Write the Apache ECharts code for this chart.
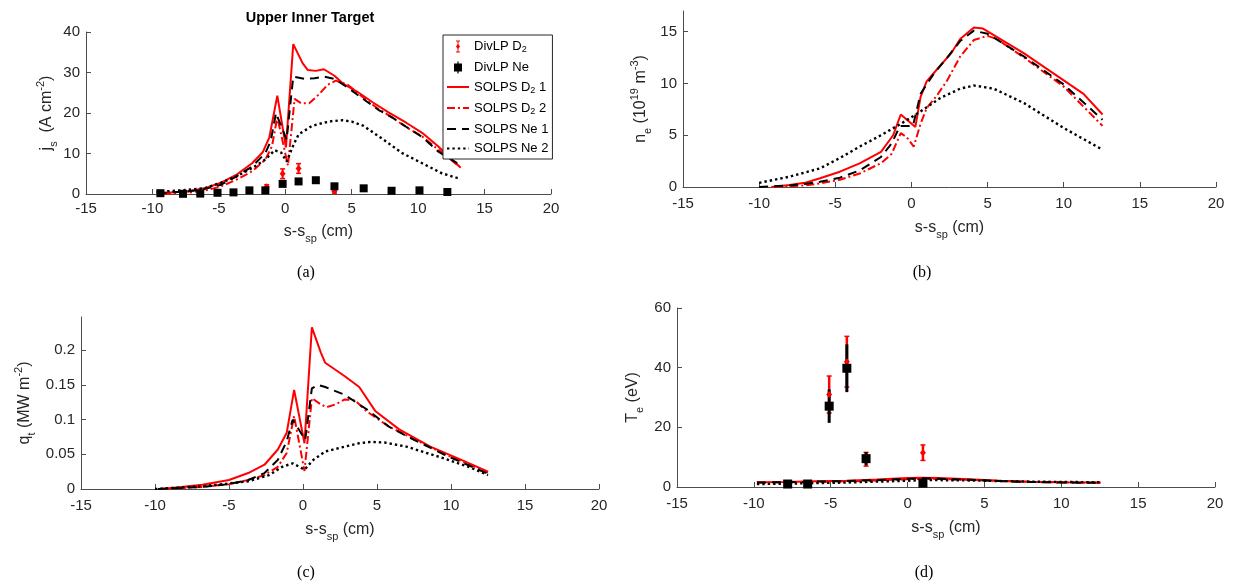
<!DOCTYPE html>
<html><head><meta charset="utf-8">
<script src="https://cdn.jsdelivr.net/npm/echarts@6/dist/echarts.min.js"></script>
<style>html,body{margin:0;padding:0;background:#fff}#c{width:1236px;height:585px}</style>
</head><body><div id="c"></div>
<script>
// ---------- Panel (a): j_s ----------
const aD21x = [-9.6,-7.4,-6.1,-4.9,-3.7,-2.5,-1.7,-1.2,-0.6,0.05,0.6,1.3,1.7,2.3,2.9,3.7,4.4,5.4,6.6,7.8,9.1,10.3,11.5,13.2];
const aD21y = [0.2,0.6,1.4,2.7,4.7,7.6,10.3,14,24.3,11.5,37,32.3,30.6,30.4,30.8,29.2,27.1,25.3,22.6,20.1,17.6,15.1,11.8,6.5];
const aD22x = [-9.2,-7.4,-6.1,-4.9,-3.7,-2.5,-1.5,-1.0,-0.6,0.2,0.7,1.2,1.8,2.5,3.2,3.8,4.7,5.8,7.0,8.0,9.1,10.3,11.5,13.1];
const aD22y = [0,0.3,0.8,1.8,3.5,5.6,8.5,11.8,19,7,23.5,22.4,22.4,24.5,27,28,27,24,21,19,16.5,14.2,11,6.8];
const aNe1x = [-9.6,-7.4,-6.1,-4.9,-3.7,-2.5,-1.5,-1.1,-0.7,0.1,0.6,1.5,2.2,2.9,3.7,4.7,5.8,7.0,8.0,9.1,10.3,11.5,13.1];
const aNe1y = [0.2,0.6,1.2,2.2,4.3,6.8,10.1,13,20,13.4,29,28.4,28.6,29,28.4,26.3,23.6,20.8,19,16.6,14.1,10.5,7.3];
const aNe2x = [-9.7,-7.4,-6.1,-4.9,-3.7,-2.5,-1.5,-0.8,-0.3,0.1,0.6,1.0,2.0,2.9,3.5,4.3,5.0,5.9,7.4,8.8,10.3,11.8,13.2];
const aNe2y = [0.5,1.0,1.4,2.7,4.3,6.4,8.5,10.8,10.2,8.0,12,14.7,16.8,17.6,18,18.2,17.9,16.8,13.4,10.1,7.6,5.1,3.7];
const aLPNex = [-9.4,-7.7,-6.4,-5.1,-3.9,-2.7,-1.5,-0.2,1.0,2.3,3.7,5.9,8.0,10.1,12.2];
const aLPNey = [0.2,0.05,0.1,0.3,0.4,0.9,0.9,2.5,3.1,3.4,1.9,1.4,0.8,0.9,0.5];
const aLPNee = [0.2,0.2,0.2,0.2,0.2,0.3,0.3,0.4,0.4,0.4,0.3,0.3,0.2,0.2,0.2];
const aLPD2x = [-1.4,-0.2,1.0,3.7];
const aLPD2y = [1.8,5.0,6.3,0.6];
const aLPD2e = [0.5,1.2,1.2,0.4];

// ---------- Panel (b): n_e ----------
const bD21x = [-9.2,-8,-7,-6,-4.7,-3.4,-2.0,-1.2,-0.7,0.26,0.6,1.0,1.7,2.6,3.2,4.1,4.7,5.6,7.4,10.0,11.3,12.55];
const bD21y = [0,0.2,0.4,0.84,1.48,2.28,3.4,5.0,7.0,5.8,8.7,10.2,11.4,12.9,14.3,15.4,15.3,14.5,12.9,10.3,9.0,7.0];
const bD22x = [-9,-7,-6,-4.7,-3.4,-2.0,-1.3,-0.7,-0.3,0.15,0.6,1.0,1.7,2.35,3.2,4.1,5.0,5.6,7.4,10.0,12.55];
const bD22y = [0,0.15,0.35,0.7,1.3,2.3,3.2,5.2,4.8,3.9,6.1,7.6,8.9,10.3,12.6,14.2,14.6,14.3,12.5,9.7,5.9];
const bNe1x = [-10,-8,-7,-6,-4.7,-3.4,-2.0,-1.3,-0.75,0.1,0.6,1.5,2.4,3.2,4.1,5.0,7.4,10.0,12.55];
const bNe1y = [0,0.15,0.3,0.5,0.9,1.6,2.9,4.2,5.9,5.9,9.0,11.0,12.6,14.1,15.1,14.8,12.6,9.9,6.5];
const bNe2x = [-10,-8,-6,-4.7,-3.4,-2.0,-0.7,0.6,1.9,3.2,4.1,5.4,7.4,10.0,12.55];
const bNe2y = [0.4,1.0,1.8,2.8,3.9,5.0,6.1,7.3,8.6,9.5,9.8,9.5,8.1,5.7,3.6];

// ---------- Panel (c): q_t ----------
const cD21x = [-9.5,-6.8,-5.0,-3.7,-2.6,-1.7,-1.1,-0.6,0.1,0.6,1.2,1.5,2.8,3.8,4.9,6.5,8.6,10.7,12.5];
const cD21y = [0,0.006,0.013,0.023,0.035,0.057,0.081,0.143,0.066,0.233,0.197,0.182,0.163,0.147,0.112,0.086,0.061,0.042,0.025];
const cD22x = [-9.5,-6.8,-5.0,-3.7,-2.6,-1.7,-1.1,-0.6,0.1,0.6,1.2,1.6,2.2,2.8,3.5,4.3,5.8,7.5,9.6,12.5];
const cD22y = [0,0.003,0.007,0.013,0.020,0.032,0.052,0.105,0.026,0.131,0.122,0.118,0.122,0.129,0.128,0.112,0.09,0.072,0.05,0.024];
const cNe1x = [-9.8,-6.8,-5.0,-3.7,-2.6,-1.7,-1.1,-0.7,0.15,0.6,1.0,1.5,2.8,4.3,5.8,7.5,9.6,12.5];
const cNe1y = [0,0.003,0.007,0.013,0.023,0.042,0.069,0.10,0.071,0.145,0.15,0.147,0.136,0.115,0.09,0.071,0.049,0.022];
const cNe2x = [-10,-6.8,-5,-3.7,-2.3,-1.4,-0.7,0.1,0.7,1.5,2.8,3.8,4.6,5.5,7.0,9.1,11.2,12.5];
const cNe2y = [0,0.004,0.008,0.011,0.020,0.032,0.037,0.028,0.042,0.054,0.061,0.066,0.068,0.067,0.061,0.047,0.032,0.020];

// ---------- Panel (d): T_e ----------
const dX = [-9.8,-8,-6,-4,-2,0,1,2,4,6,8,10,12.55];
const dD21y = [1.6,1.7,1.9,2.1,2.5,3.0,3.1,3.0,2.6,2.1,1.8,1.6,1.5];
const dD22y = [1.5,1.6,1.7,1.9,2.2,2.6,2.8,2.7,2.4,2.0,1.7,1.5,1.4];
const dNe1y = [1.5,1.6,1.8,2.0,2.3,2.7,2.9,2.8,2.4,2.0,1.7,1.5,1.4];
const dNe2y = [1.0,1.1,1.3,1.5,1.8,2.1,2.3,2.3,2.2,2.0,1.8,1.7,1.6];
const dLPNex = [-7.8,-6.5,-5.1,-3.95,-2.7,1.0];
const dLPNey = [1.0,1.0,27.1,39.8,9.5,1.3];
const dLPNee = [0.5,0.5,5.6,8,2.2,0.5];
const dLPD2x = [-5.1,-3.95,-2.7,1.0];
const dLPD2y = [31,42,9.3,11.5];
const dLPD2e = [6.2,8.5,2.3,2.6];

// ---------- axes ticks ----------
const xTicks = {min:-15, max:20, interval:5};
const yA = {min:0, max:40, interval:10};
const yB = {min:0, max:17, ticks:[0,5,10,15]};
const yC = {min:0, max:0.248, ticks:[0,0.05,0.1,0.15,0.2]};
const yD = {min:0, max:60, interval:20};

const NAMES = ['DivLP D2','DivLP Ne','SOLPS D2 1','SOLPS D2 2','SOLPS Ne 1','SOLPS Ne 2'];

// ---------- build ----------
const F = 'Liberation Sans';
const TXT = '#262626';
const zip = (a,b,c) => a.map((v,i)=> c ? [v,b[i],c[i]] : [v,b[i]]);
const LS = {
  'SOLPS D2 1': {color:'#ff0000', width:2, type:'solid'},
  'SOLPS D2 2': {color:'#ff0000', width:2, type:[8,3,2,3]},
  'SOLPS Ne 1': {color:'#000000', width:2, type:[9,6]},
  'SOLPS Ne 2': {color:'#000000', width:2.4, type:[2.4,3]}
};
function line(name, xs, ys, g){
  return {type:'line', name, xAxisIndex:g, yAxisIndex:g, data:zip(xs,ys), symbol:'none', showSymbol:false,
    color:LS[name].color, lineStyle:LS[name], animation:false, silent:true, z:3, clip:true};
}
function errbar(xs, ys, es, g, color, w, cap){
  return {type:'custom', xAxisIndex:g, yAxisIndex:g, data:zip(xs,ys,es), encode:{x:0,y:1}, z:2, silent:true, animation:false,
    renderItem:(p, api)=>{
      const x=api.value(0), y=api.value(1), e=api.value(2);
      const a=api.coord([x,y-e]), b=api.coord([x,y+e]);
      const ch=[];
      ch.push({type:'line', shape:{x1:a[0],y1:a[1],x2:b[0],y2:b[1]}, style:{stroke:color, lineWidth:w}});
      if(cap){
        ch.push({type:'line', shape:{x1:a[0]-cap,y1:a[1],x2:a[0]+cap,y2:a[1]}, style:{stroke:color, lineWidth:1.5}});
        ch.push({type:'line', shape:{x1:b[0]-cap,y1:b[1],x2:b[0]+cap,y2:b[1]}, style:{stroke:color, lineWidth:1.5}});
      }
      return {type:'group', children:ch};
    }};
}
function pts(name, xs, ys, g, sym, size, color){
  return {type:'scatter', name, xAxisIndex:g, yAxisIndex:g, data:zip(xs,ys), symbol:sym, symbolSize:size,
    itemStyle:{color, opacity:1}, color, z:4, silent:true, animation:false};
}

const rich = {
  n:{fontSize:16, fontFamily:F, color:TXT, lineHeight:24},
  sub:{fontSize:11, fontFamily:F, color:TXT, lineHeight:11, verticalAlign:'bottom'},
  sup:{fontSize:11, fontFamily:F, color:TXT, lineHeight:11, verticalAlign:'top'}
};
const grids = [
  {left:86, top:32, width:465, height:162},
  {left:683, top:11, width:533, height:176},
  {left:81, top:317, width:518, height:172},
  {left:677, top:308, width:538, height:179}
];
const xName = '{n|s-s}{sub|sp}{n| (cm)}';
const yNames = [
  '{n|j}{sub|s}{n|  (A cm}{sup|-2}{n|)}',
  '{n|n}{sub|e}{n| (10}{sup|19}{n| m}{sup|-3}{n|)}',
  '{n|q}{sub|t}{n| (MW m}{sup|-2}{n|)}',
  '{n|T}{sub|e}{n| (eV)}'
];
const yGaps = [27, 30, 44, 32];
const xGaps = [26, 29, 29, 29];
const ySpecs = [yA,yB,yC,yD];

const axisCommon = {
  axisLine:{show:true, onZero:false, lineStyle:{color:'#4d4d4d', width:1}},
  axisTick:{show:true, inside:true, length:5, lineStyle:{color:'#4d4d4d'}},
  splitLine:{show:false},
  axisLabel:{color:TXT, fontSize:15, fontFamily:F, margin:7}
};
const xAxis = grids.map((g,i)=>({
  type:'value', gridIndex:i, min:xTicks.min, max:xTicks.max, interval:xTicks.interval,
  ...JSON.parse(JSON.stringify(axisCommon)),
  name:xName, nameLocation:'middle', nameGap:xGaps[i], nameTextStyle:{rich}
}));
xAxis.forEach((ax,i)=>{ if(i>0) ax.axisLabel.margin = 9; });
const yAxis = ySpecs.map((s,i)=>{
  const ax = {type:'value', gridIndex:i, min:s.min, max:s.max,
    ...JSON.parse(JSON.stringify(axisCommon)),
    name:yNames[i], nameLocation:'middle', nameGap:yGaps[i], nameRotate:90, nameTextStyle:{rich}};
  ax.axisLabel.margin = 6;
  if (s.ticks){
    ax.axisLabel.customValues = s.ticks;
    ax.axisTick.customValues = s.ticks;
  } else {
    ax.interval = s.interval;
  }
  return ax;
});

const series = [
  // (a)
  errbar(aLPD2x, aLPD2y, aLPD2e, 0, '#ff0000', 2, 2.5),
  pts('DivLP D2', aLPD2x, aLPD2y, 0, 'diamond', [6,7], '#ff0000'),
  line('SOLPS D2 1', aD21x, aD21y, 0),
  line('SOLPS D2 2', aD22x, aD22y, 0),
  line('SOLPS Ne 1', aNe1x, aNe1y, 0),
  line('SOLPS Ne 2', aNe2x, aNe2y, 0),
  errbar(aLPNex, aLPNey, aLPNee, 0, '#000', 2, 0),
  pts('DivLP Ne', aLPNex, aLPNey, 0, 'rect', 8, '#000'),
  // (b)
  line('SOLPS D2 1', bD21x, bD21y, 1),
  line('SOLPS D2 2', bD22x, bD22y, 1),
  line('SOLPS Ne 1', bNe1x, bNe1y, 1),
  line('SOLPS Ne 2', bNe2x, bNe2y, 1),
  // (c)
  line('SOLPS D2 1', cD21x, cD21y, 2),
  line('SOLPS D2 2', cD22x, cD22y, 2),
  line('SOLPS Ne 1', cNe1x, cNe1y, 2),
  line('SOLPS Ne 2', cNe2x, cNe2y, 2),
  // (d)
  errbar(dLPD2x, dLPD2y, dLPD2e, 3, '#ff0000', 2.5, 2.5),
  pts('DivLP D2', dLPD2x, dLPD2y, 3, 'diamond', [6,7], '#ff0000'),
  errbar(dLPNex, dLPNey, dLPNee, 3, '#000', 3, 0),
  pts('DivLP Ne', dLPNex, dLPNey, 3, 'rect', 9, '#000'),
  line('SOLPS D2 1', dX, dD21y, 3),
  line('SOLPS D2 2', dX, dD22y, 3),
  line('SOLPS Ne 1', dX, dNe1y, 3),
  line('SOLPS Ne 2', dX, dNe2y, 3)
];

const legendRich = {
  t:{fontSize:13, fontFamily:F, color:'#000', lineHeight:16},
  s:{fontSize:9, fontFamily:F, color:'#000', lineHeight:9, verticalAlign:'bottom'}
};
const legendFmt = {
  'DivLP D2':'{t|DivLP D}{s|2}',
  'DivLP Ne':'{t|DivLP Ne}',
  'SOLPS D2 1':'{t|SOLPS D}{s|2}{t| 1}',
  'SOLPS D2 2':'{t|SOLPS D}{s|2}{t| 2}',
  'SOLPS Ne 1':'{t|SOLPS Ne 1}',
  'SOLPS Ne 2':'{t|SOLPS Ne 2}'
};
const ICON_D2 = 'path://M1,0H5V1H1Z M1,11H5V12H1Z M2.5,0H3.5V12H2.5Z M3,3L5,6L3,9L1,6Z';
const ICON_NE = 'path://M0,2H8V10H0Z M3.4,0H4.6V12H3.4Z';
const legendData = NAMES.map(n=>{
  if (n==='DivLP D2') return {name:n, icon:ICON_D2};
  if (n==='DivLP Ne') return {name:n, icon:ICON_NE};
  return {name:n, itemStyle:{opacity:0}};
});

const chart = echarts.init(document.getElementById('c'), null, {renderer:'canvas'});
chart.setOption({
  animation:false,
  backgroundColor:'#fff',
  grid: grids.map(g=>({...g, containLabel:false, outerBoundsMode:'none'})),
  xAxis, yAxis, series,
  legend:{
    data:legendData, orient:'vertical', left:443, top:35, padding:[5,4,4,3], itemGap:6.5,
    itemWidth:22, itemHeight:12, borderColor:'#262626', borderWidth:1, backgroundColor:'#fff',
    selectedMode:false, formatter:n=>legendFmt[n], textStyle:{rich:legendRich, fontSize:13, fontFamily:F, color:'#000'}
  },
  graphic:[
    {type:'text', x:310, y:18, style:{text:'Upper Inner Target', font:'bold 14.5px "Liberation Sans"', fill:'#000', align:'center', verticalAlign:'middle'}},
    {type:'text', x:306, y:273, style:{text:'(a)', font:'16px "Liberation Serif"', fill:'#000', align:'center', verticalAlign:'middle'}},
    {type:'text', x:922, y:273, style:{text:'(b)', font:'16px "Liberation Serif"', fill:'#000', align:'center', verticalAlign:'middle'}},
    {type:'text', x:306, y:573, style:{text:'(c)', font:'16px "Liberation Serif"', fill:'#000', align:'center', verticalAlign:'middle'}},
    {type:'text', x:924, y:573, style:{text:'(d)', font:'16px "Liberation Serif"', fill:'#000', align:'center', verticalAlign:'middle'}}
  ]
});
</script></body></html>
